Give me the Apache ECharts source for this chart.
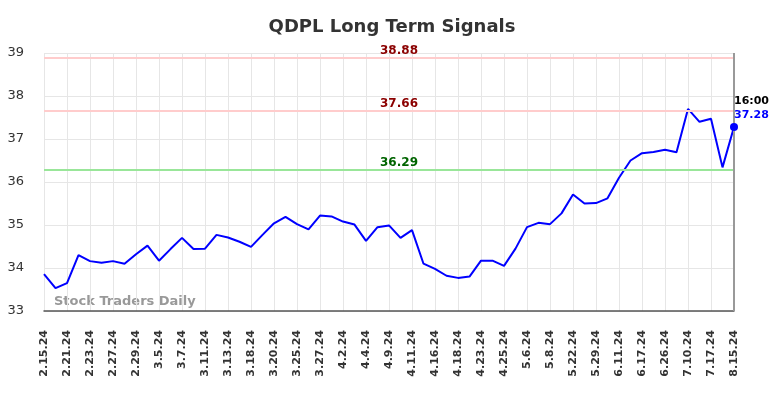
<!DOCTYPE html>
<html><head><meta charset="utf-8">
<script src="https://cdn.jsdelivr.net/npm/echarts@6/dist/echarts.min.js"></script>
<style>html,body{margin:0;padding:0;background:#fff}#c{width:784px;height:398px}</style>
</head><body><div id="c"></div>
<script>
const categories = ["2.15.24","2.20.24","2.21.24","2.22.24","2.23.24","2.26.24","2.27.24","2.28.24","2.29.24","3.4.24","3.5.24","3.6.24","3.7.24","3.8.24","3.11.24","3.12.24","3.13.24","3.14.24","3.18.24","3.19.24","3.20.24","3.21.24","3.25.24","3.26.24","3.27.24","3.28.24","4.2.24","4.3.24","4.4.24","4.5.24","4.9.24","4.10.24","4.11.24","4.15.24","4.16.24","4.17.24","4.18.24","4.22.24","4.23.24","4.24.24","4.25.24","5.2.24","5.6.24","5.7.24","5.8.24","5.21.24","5.22.24","5.28.24","5.29.24","6.10.24","6.11.24","6.14.24","6.17.24","6.25.24","6.26.24","7.9.24","7.10.24","7.16.24","7.17.24","8.14.24","8.15.24"];
const prices = [33.86,33.53,33.65,34.30,34.16,34.12,34.16,34.10,34.32,34.52,34.17,34.44,34.70,34.44,34.45,34.77,34.71,34.61,34.49,34.77,35.04,35.19,35.02,34.90,35.22,35.20,35.08,35.01,34.63,34.95,34.99,34.70,34.88,34.10,33.98,33.82,33.77,33.80,34.17,34.17,34.05,34.45,34.95,35.05,35.02,35.27,35.71,35.50,35.51,35.62,36.10,36.50,36.67,36.70,36.75,36.69,37.70,37.40,37.47,36.34,37.28];
const signalValues = [38.88, 37.66, 36.29];
const signalLineColors = ["#ffcccc", "#ffcccc", "#99e699"];
const signalTextColors = ["#8b0000", "#8b0000", "#006400"];
const yTicks = {min: 33, max: 39, interval: 1};
const lastTime = "16:00";

const chart = echarts.init(document.getElementById('c'));
const lastIdx = prices.length - 1;
chart.setOption({
  animation: false,
  title: {text: 'QDPL Long Term Signals', left: 'center', top: 13,
    textStyle: {fontFamily: 'DejaVu Sans', fontSize: 18, fontWeight: 'bold', color: '#333'}},
  grid: {left: 44, right: 50, top: 53, bottom: 87},
  xAxis: {
    type: 'category', data: categories, boundaryGap: false,
    axisLine: {lineStyle: {color: '#555', width: 1.5}},
    axisTick: {show: false},
    axisLabel: {interval: 1, rotate: 90, margin: 19, fontFamily: 'DejaVu Sans', fontSize: 11, fontWeight: 'bold', color: '#333'},
    splitLine: {show: true, interval: 1, lineStyle: {color: '#e6e6e6', width: 1}}
  },
  yAxis: {
    type: 'value', min: yTicks.min, max: yTicks.max, interval: yTicks.interval,
    axisLine: {show: false}, axisTick: {show: false},
    axisLabel: {margin: 20, fontFamily: 'DejaVu Sans', fontSize: 13, color: '#333'},
    splitLine: {lineStyle: {color: '#e6e6e6', width: 1}}
  },
  graphic: [{type: 'text', left: 54, top: 295, style: {text: 'Stock Traders Daily', fill: '#999', font: 'bold 13px "DejaVu Sans"'}}],
  series: [
    {
      type: 'line', data: prices, symbol: 'none',
      lineStyle: {color: '#0000ff', width: 2}, z: 3,
      markLine: {
        silent: true, symbol: 'none',
        data: signalValues.map((v, i) => ({
          yAxis: v,
          lineStyle: {color: signalLineColors[i], width: 2, type: 'solid'},
          label: {show: true, position: 'insideMiddleTop', distance: 1, padding: [0, 0, 0, 20],
            formatter: v.toFixed(2), color: signalTextColors[i],
            fontFamily: 'DejaVu Sans', fontSize: 12, fontWeight: 'bold'}
        })).concat([{
          xAxis: categories[lastIdx],
          lineStyle: {color: '#999', width: 2, type: 'solid'},
          label: {show: false}
        }])
      }
    },
    {
      type: 'scatter', data: [[categories[lastIdx], prices[lastIdx]]],
      symbol: 'circle', symbolSize: 8, itemStyle: {color: '#0000ff', opacity: 1}, z: 5,
      label: {show: true, position: 'top', align: 'left', distance: 1,
        formatter: '{a|' + lastTime + '}\n{b|' + prices[lastIdx].toFixed(2) + '}',
        rich: {
          a: {color: '#000', fontFamily: 'DejaVu Sans', fontSize: 11, fontWeight: 'bold', lineHeight: 14},
          b: {color: '#0000ff', fontFamily: 'DejaVu Sans', fontSize: 11, fontWeight: 'bold', lineHeight: 14}
        }}
    }
  ]
});
</script></body></html>
